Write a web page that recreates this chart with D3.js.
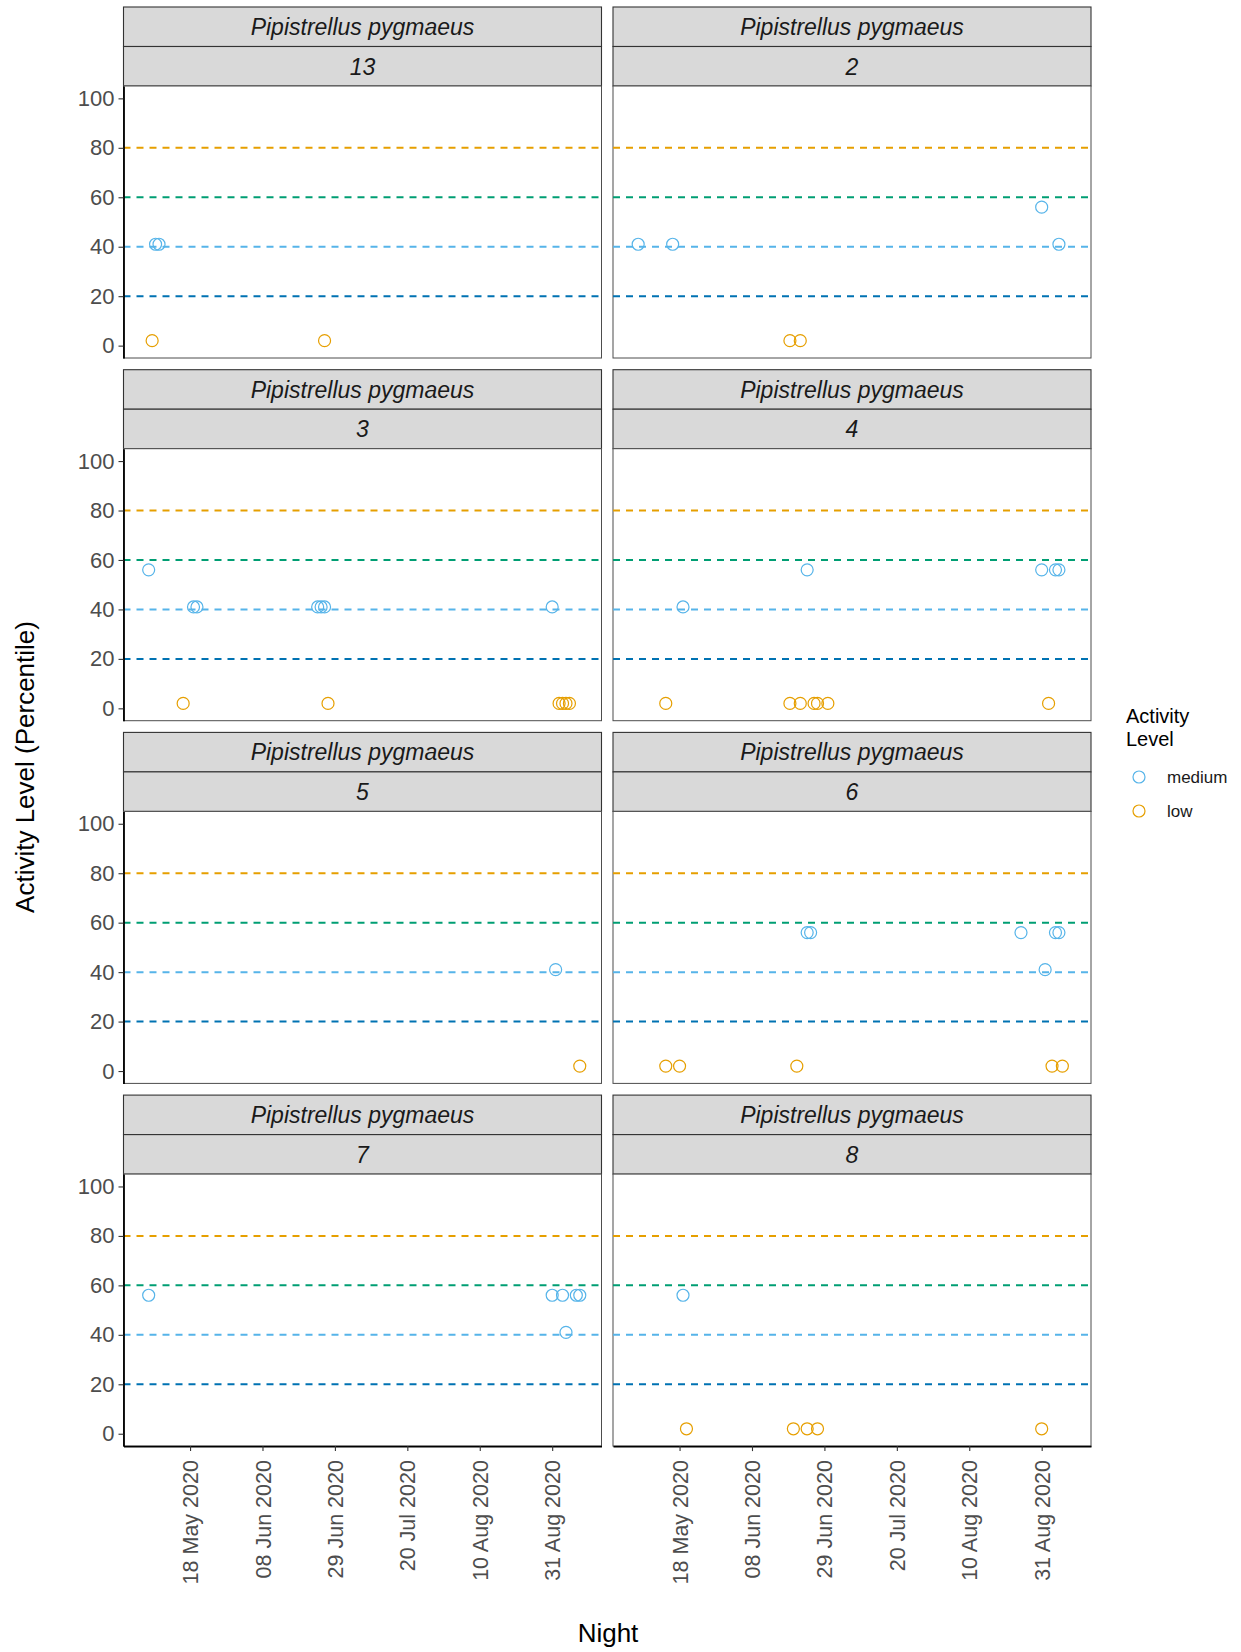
<!DOCTYPE html>
<html>
<head>
<meta charset="utf-8">
<script src="https://cdn.jsdelivr.net/npm/d3@7/dist/d3.min.js"></script>
<style>
    body { margin: 0; background: #fff; }
    text { font-family: "Liberation Sans", Arial, sans-serif; }
    .tick-label { fill: #4d4d4d; font-size: 22px; }
    .x-label { fill: #4d4d4d; font-size: 21.5px; }
    .strip-text { fill: #1a1a1a; font-size: 23px; font-style: italic; }
    .axis-title { fill: #000; font-size: 26px; }
</style>
</head>
<body>
<script>

    // species / site facets, row-major
    var species = "Pipistrellus pygmaeus";
    var sites = ["13", "2", "3", "4", "5", "6", "7", "8"];

    // first and last night of the survey (x scale spans the whole survey)
    var surveyNights = ["2020-05-05", "2020-09-08"];

    // [night, activity level, percentile]
    var site13 = [["2020-05-08", "medium", 41], ["2020-05-09", "medium", 41],
                  ["2020-05-07", "low", 2], ["2020-06-26", "low", 2]];
    var site2 = [["2020-05-06", "medium", 41], ["2020-05-16", "medium", 41], ["2020-08-31", "medium", 56],
                 ["2020-09-05", "medium", 41], ["2020-06-19", "low", 2], ["2020-06-22", "low", 2]];
    var site3 = [["2020-05-06", "medium", 56], ["2020-05-19", "medium", 41], ["2020-05-20", "medium", 41],
                 ["2020-06-24", "medium", 41], ["2020-06-25", "medium", 41], ["2020-06-26", "medium", 41],
                 ["2020-08-31", "medium", 41], ["2020-05-16", "low", 2], ["2020-06-27", "low", 2],
                 ["2020-09-02", "low", 2], ["2020-09-03", "low", 2], ["2020-09-04", "low", 2], ["2020-09-05", "low", 2]];
    var site4 = [["2020-05-19", "medium", 41], ["2020-06-24", "medium", 56], ["2020-08-31", "medium", 56],
                 ["2020-09-04", "medium", 56], ["2020-09-05", "medium", 56], ["2020-05-14", "low", 2],
                 ["2020-06-19", "low", 2], ["2020-06-22", "low", 2], ["2020-06-26", "low", 2],
                 ["2020-06-27", "low", 2], ["2020-06-30", "low", 2], ["2020-09-02", "low", 2]];
    var site5 = [["2020-09-01", "medium", 41], ["2020-09-08", "low", 2]];
    var site6 = [["2020-06-24", "medium", 56], ["2020-06-25", "medium", 56], ["2020-08-25", "medium", 56],
                 ["2020-09-04", "medium", 56], ["2020-09-05", "medium", 56], ["2020-09-01", "medium", 41],
                 ["2020-05-14", "low", 2], ["2020-05-18", "low", 2], ["2020-06-21", "low", 2],
                 ["2020-09-03", "low", 2], ["2020-09-06", "low", 2]];
    var site7 = [["2020-05-06", "medium", 56], ["2020-08-31", "medium", 56], ["2020-09-03", "medium", 56],
                 ["2020-09-07", "medium", 56], ["2020-09-08", "medium", 56], ["2020-09-04", "medium", 41]];
    var site8 = [["2020-05-19", "medium", 56], ["2020-05-20", "low", 2], ["2020-06-20", "low", 2],
                 ["2020-06-24", "low", 2], ["2020-06-27", "low", 2], ["2020-08-31", "low", 2]];
    var siteData = [site13, site2, site3, site4, site5, site6, site7, site8];

    var thresholds = [80, 60, 40, 20];
    var levels = ["medium", "low"];
    var yTicks = [0, 20, 40, 60, 80, 100];
    var xTicks = ["2020-05-18", "2020-06-08", "2020-06-29", "2020-07-20", "2020-08-10", "2020-08-31"];

    // styles
    var thresholdColour = {80: "#E69F00", 60: "#009E73", 40: "#56B4E9", 20: "#0072B2"};
    var levelColour = d3.scaleOrdinal().domain(levels).range(["#56B4E9", "#E69F00"]);

    var width = 1241, height = 1652;
    var colX = [123.5, 613], panelW = 478;
    var rowPitch = 362.7, top0 = 7, stripH = 39.5, panelH = 272;

    var parse = d3.timeParse("%Y-%m-%d");
    var fmt = d3.timeFormat("%d %b %Y");

    var allDates = surveyNights.map(parse);
    siteData.forEach(function (s) { s.forEach(function (d) { allDates.push(parse(d[0])); }); });
    var ext = d3.extent(allDates);
    var pad = (ext[1] - ext[0]) * 0.05;

    var x = d3.scaleTime()
        .domain([new Date(+ext[0] - pad), new Date(+ext[1] + pad)])
        .range([0, panelW]);
    var y = d3.scaleLinear().domain([-5, 105]).range([panelH, 0]);

    var svg = d3.select("body").append("svg")
        .attr("width", width)
        .attr("height", height);

    svg.append("rect").attr("width", width).attr("height", height).attr("fill", "#fff");

    sites.forEach(function (site, i) {
        var col = i % 2, row = Math.floor(i / 2);
        var nRows = Math.ceil(sites.length / 2);
        var rowTop = top0 + row * rowPitch;
        var g = svg.append("g").attr("transform", "translate(" + colX[col] + "," + rowTop + ")");

        // strips
        [species, site].forEach(function (lab, k) {
            g.append("rect")
                .attr("x", 0).attr("y", k * stripH)
                .attr("width", panelW).attr("height", stripH)
                .attr("fill", "#d9d9d9").attr("stroke", "#333").attr("stroke-width", 1.1);
            g.append("text")
                .attr("class", "strip-text")
                .attr("x", panelW / 2).attr("y", k * stripH + stripH / 2)
                .attr("dy", "0.36em")
                .attr("text-anchor", "middle")
                .text(lab);
        });

        var p = g.append("g").attr("transform", "translate(0," + (2 * stripH) + ")");

        p.append("rect")
            .attr("width", panelW).attr("height", panelH)
            .attr("fill", "#fff").attr("stroke", "#4d4d4d").attr("stroke-width", 1);

        p.selectAll("line.thr")
            .data(thresholds)
            .enter().append("line")
            .attr("class", "thr")
            .attr("x1", 0).attr("x2", panelW)
            .attr("y1", function (d) { return y(d); })
            .attr("y2", function (d) { return y(d); })
            .attr("stroke", function (d) { return thresholdColour[d]; })
            .attr("stroke-width", 2)
            .attr("stroke-dasharray", "7,6");

        p.selectAll("circle")
            .data(siteData[i])
            .enter().append("circle")
            .attr("cx", function (d) { return x(parse(d[0])); })
            .attr("cy", function (d) { return y(d[2]); })
            .attr("r", 6)
            .attr("fill", "none")
            .attr("stroke", function (d) { return levelColour(d[1]); })
            .attr("stroke-width", 1.2);

        if (col === 0) {
            var ya = p.append("g")
                .call(d3.axisLeft(y).tickValues(yTicks).tickSize(5).tickSizeOuter(0).tickPadding(4));
            ya.select(".domain").attr("stroke", "#000").attr("stroke-width", 1.8);
            ya.selectAll(".tick line").attr("stroke", "#333").attr("stroke-width", 1.1);
            ya.selectAll(".tick text").attr("class", "tick-label").attr("font-size", null)
                .attr("font-family", null).attr("fill", null);
        }

        if (row === nRows - 1) {
            var xa = p.append("g")
                .attr("transform", "translate(0," + panelH + ")")
                .call(d3.axisBottom(x).tickValues(xTicks.map(parse)).tickFormat(fmt).tickSize(5).tickSizeOuter(0));
            xa.select(".domain").attr("stroke", "#000").attr("stroke-width", 1.8);
            xa.selectAll(".tick line").attr("stroke", "#333").attr("stroke-width", 1.1);
            xa.selectAll(".tick text")
                .attr("class", "x-label").attr("font-size", null)
                .attr("font-family", null).attr("fill", null)
                .attr("transform", "rotate(-90)")
                .attr("x", -14).attr("y", 0).attr("dy", "0.35em")
                .attr("text-anchor", "end");
        }
    });

    // axis titles
    svg.append("text")
        .attr("class", "axis-title")
        .attr("transform", "translate(34,767) rotate(-90)")
        .attr("text-anchor", "middle")
        .text("Activity Level (Percentile)");

    svg.append("text")
        .attr("class", "axis-title")
        .attr("x", 608).attr("y", 1642)
        .attr("text-anchor", "middle")
        .text("Night");

    // legend
    var lg = svg.append("g").attr("transform", "translate(1126,0)");
    lg.append("text").attr("x", 0).attr("y", 723).attr("font-size", 20).text("Activity");
    lg.append("text").attr("x", 0).attr("y", 746).attr("font-size", 20).text("Level");
    levels.forEach(function (lv, k) {
        lg.append("circle")
            .attr("cx", 13).attr("cy", 777 + k * 34).attr("r", 6)
            .attr("fill", "none").attr("stroke", levelColour(lv)).attr("stroke-width", 1.2);
        lg.append("text")
            .attr("x", 41).attr("y", 777 + k * 34).attr("dy", "0.35em")
            .attr("font-size", 17).attr("fill", "#1a1a1a")
            .text(lv);
    });

</script>
</body>
</html>
